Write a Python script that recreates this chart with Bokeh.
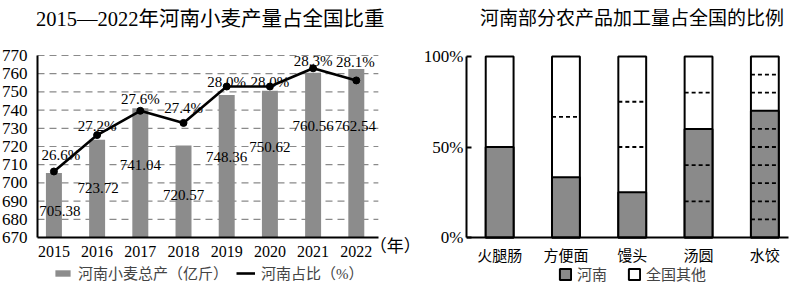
from bokeh.plotting import figure
from bokeh.models import (Range1d, FixedTicker, ColumnDataSource,
                          LabelSet, Label, Legend, LegendItem)
from bokeh.layouts import row
from bokeh.embed import file_html
from bokeh.resources import INLINE
from bokeh.core.properties import value

# ---------------- data: left chart ----------------
years = [2015, 2016, 2017, 2018, 2019, 2020, 2021, 2022]
wheat_output = [705.38, 723.72, 741.04, 720.57, 748.36, 750.62, 760.56, 762.54]
henan_share = [26.6, 27.2, 27.6, 27.4, 28.0, 28.0, 28.3, 28.1]
output_ticks = [670, 680, 690, 700, 710, 720, 730, 740, 750, 760, 770]
left_title = "2015—2022年河南小麦产量占全国比重"

# ---------------- data: right chart ----------------
products = ["火腿肠", "方便面", "馒头", "汤圆", "水饺"]
henan_pct = [50, 100 / 3, 25, 60, 70]
divisions = [2, 3, 4, 5, 10]
pct_ticks = [0, 50, 100]
pct_tick_labels = ["0%", "50%", "100%"]
right_title = "河南部分农产品加工量占全国的比例"

# ---------------- label placement (layout only) ----------------
output_label_y = [684.8, 697.0, 710.0, 693.6, 714.0, 719.5, 731.5, 731.5]
output_label_dx = [6, 1, 0, 0, 0, 0, 0, -1]
share_label_dx = [7, 0, 0, 0, 0, 0, 0, -1]
share_label_dy = [16, 9, 12, 15, 5, 5, 7, 18]

SERIF = "Liberation Serif, Noto Sans CJK SC"
BAR_GRAY = "#8c8c8c"

# axis extents (the frame is larger so titles/legends fit inside it)
X1_AXIS = (2014.62, 2022.51)
Y1_AXIS = (670, 770)

# ================= left figure =================
p1 = figure(width=420, height=286, output_backend="svg", toolbar_location=None,
            x_range=Range1d(2013.7635, 2023.486), y_range=Range1d(643.08, 800.22),
            min_border_left=0, min_border_right=0, min_border_top=0,
            min_border_bottom=0)
p1.extra_y_ranges = {"pct": Range1d(24.705, 29.417)}
p1.outline_line_color = None
p1.xgrid.grid_line_color = None
p1.ygrid.grid_line_color = None

# dashed horizontal grid, limited to the axis extent
grid_vals = output_ticks[1:]
p1.segment(x0=[X1_AXIS[0]] * len(grid_vals), x1=[X1_AXIS[1]] * len(grid_vals),
           y0=grid_vals, y1=grid_vals, line_color="#8a8a8a",
           line_dash="7 5", line_width=1.2)

bars = p1.vbar(x=years, top=wheat_output, bottom=Y1_AXIS[0], width=0.37,
               fill_color=BAR_GRAY, line_color=None)
line = p1.line(x=years, y=henan_share, y_range_name="pct",
               line_color="black", line_width=2.6)
p1.scatter(x=years, y=henan_share, y_range_name="pct", size=7,
           fill_color="black", line_color="black")

p1.yaxis.ticker = FixedTicker(ticks=output_ticks)
p1.yaxis.bounds = Y1_AXIS
p1.yaxis.fixed_location = X1_AXIS[0]
p1.xaxis.ticker = FixedTicker(ticks=years)
p1.xaxis.bounds = X1_AXIS
p1.xaxis.fixed_location = Y1_AXIS[0]
for ax in (p1.xaxis[0], p1.yaxis[0]):
    ax.axis_line_color = "black"
    ax.axis_line_width = 2
    ax.major_tick_line_color = None
    ax.minor_tick_line_color = None
    ax.major_label_text_font = SERIF
    ax.major_label_text_color = "black"
p1.yaxis.major_label_text_font_size = "17px"
p1.xaxis.major_label_text_font_size = "16px"
p1.yaxis.major_label_standoff = 4
p1.xaxis.major_label_standoff = 2

src_out = ColumnDataSource(dict(x=years, y=output_label_y,
                                t=[f"{v:.2f}" for v in wheat_output],
                                dx=output_label_dx))
p1.add_layout(LabelSet(source=src_out, x="x", y="y", text="t", x_offset="dx",
                       text_align="center", text_baseline="middle",
                       text_font=value(SERIF), text_font_size="15px",
                       text_color="black"))
src_sh = ColumnDataSource(dict(x=years, y=henan_share,
                               t=[f"{v:.1f}%" for v in henan_share],
                               dx=share_label_dx, dy=share_label_dy))
p1.add_layout(LabelSet(source=src_sh, x="x", y="y", text="t", y_range_name="pct",
                       x_offset="dx", y_offset="dy",
                       text_align="center", text_baseline="middle",
                       text_font=value(SERIF), text_font_size="15px",
                       text_color="black"))

p1.add_layout(Label(x=2018.62, y=789.8, text=left_title, text_align="center",
                    text_baseline="middle", text_font=SERIF,
                    text_font_size="20.5px", text_color="black"))
p1.add_layout(Label(x=2022.9, y=665, text="（年）", text_align="center",
                    text_baseline="middle", text_font=SERIF,
                    text_font_size="17px", text_color="black"))

leg1 = Legend(items=[LegendItem(label="河南小麦总产（亿斤）", renderers=[bars]),
                     LegendItem(label="河南占比（%）", renderers=[line])],
              orientation="horizontal", location=(53, 3),
              glyph_width=19, glyph_height=8, label_standoff=6, spacing=8,
              label_height=18, label_text_font=SERIF, label_text_font_size="15px",
              border_line_color=None, background_fill_alpha=0,
              padding=0, margin=0)
p1.add_layout(leg1, "center")

# ================= right figure =================
xs = list(range(len(products)))
bw = 0.42
X2_AXIS = (-0.5, 4.35)
Y2_AXIS = (0, 100)
p2 = figure(width=380, height=286, output_backend="svg", toolbar_location=None,
            x_range=Range1d(-0.5, 4.5376), y_range=Range1d(-27.07, 130.94),
            min_border_left=45, min_border_right=0, min_border_top=0,
            min_border_bottom=0)
p2.outline_line_color = None
p2.xgrid.grid_line_color = None
p2.ygrid.grid_line_color = None

rest = p2.vbar(x=xs, top=[100] * len(xs), bottom=0, width=bw,
               fill_color="white", line_color="black", line_width=2)
henan = p2.vbar(x=xs, top=henan_pct, bottom=0, width=bw,
                fill_color="#8a8a8a", line_color="black", line_width=2)

seg_x0, seg_x1, seg_y = [], [], []
for i, (h, n) in enumerate(zip(henan_pct, divisions)):
    for k in range(1, n):
        yv = 100 * k / n
        if abs(yv - h) > 1e-6:
            seg_x0.append(i - bw / 2)
            seg_x1.append(i + bw / 2)
            seg_y.append(yv)
p2.segment(x0=seg_x0, y0=seg_y, x1=seg_x1, y1=seg_y, line_color="black",
           line_width=1.8, line_dash="4 3")

p2.yaxis.ticker = FixedTicker(ticks=pct_ticks)
p2.yaxis.major_label_overrides = dict(zip(pct_ticks, pct_tick_labels))
p2.yaxis.bounds = Y2_AXIS
p2.xaxis.ticker = FixedTicker(ticks=xs)
p2.xaxis.major_label_overrides = dict(zip(xs, products))
p2.xaxis.bounds = X2_AXIS
p2.xaxis.fixed_location = Y2_AXIS[0]
for ax in (p2.xaxis[0], p2.yaxis[0]):
    ax.axis_line_color = "black"
    ax.axis_line_width = 2
    ax.minor_tick_line_color = None
    ax.major_label_text_font = SERIF
    ax.major_label_text_color = "black"
p2.xaxis.major_tick_line_color = None
p2.yaxis.major_tick_in = 5
p2.yaxis.major_tick_out = 0
p2.yaxis.major_tick_line_width = 2
p2.yaxis.major_tick_line_color = "black"
p2.yaxis.major_label_text_font_size = "17px"
p2.yaxis.major_label_standoff = 3
p2.xaxis.major_label_text_font_size = "15px"
p2.xaxis.major_label_standoff = 4

p2.add_layout(Label(x=1.996, y=121, text=right_title, text_align="center",
                    text_baseline="middle", text_font=SERIF,
                    text_font_size="19px", text_color="black"))

leg2 = Legend(items=[LegendItem(label="河南", renderers=[henan]),
                     LegendItem(label="全国其他", renderers=[rest])],
              orientation="horizontal", location=(92, 2),
              glyph_width=14, glyph_height=14, label_standoff=5, spacing=20,
              label_height=18, label_text_font=SERIF, label_text_font_size="15px",
              border_line_color=None, background_fill_alpha=0,
              padding=0, margin=0)
p2.add_layout(leg2, "center")

layout = row(p1, p2)
open("out.html", "w").write(file_html(layout, INLINE))
